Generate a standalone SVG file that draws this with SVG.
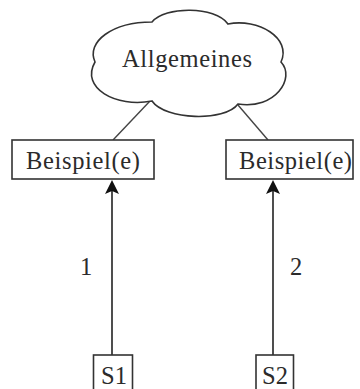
<svg xmlns="http://www.w3.org/2000/svg" width="360" height="389" viewBox="0 0 360 389">
  <style>
    .box { fill: #ffffff; stroke: #333333; stroke-width: 1.6; }
    .cloud { fill: #ffffff; stroke: #333333; stroke-width: 1.6; }
    .label { font-family: "Liberation Serif", "DejaVu Serif", serif; font-size: 24.5px; fill: #2b2b2b; }
    .edge { stroke: #444444; stroke-width: 1.4; fill: none; }
    .arrow { stroke: #222222; stroke-width: 1.6; fill: none; }
    .head { fill: #111111; }
  </style>

  <!-- connectors -->
  <g id="connectors">
    <line class="edge" x1="150" y1="101" x2="113" y2="140"/>
    <line class="edge" x1="238" y1="105" x2="268" y2="140"/>
    <line class="arrow" x1="112" y1="355" x2="112" y2="185"/>
    <path class="head" d="M112,180 L105,194 L112,191 L119,194 Z"/>
    <line class="arrow" x1="273" y1="355" x2="273" y2="185"/>
    <path class="head" d="M273,180 L266,194 L273,191 L280,194 Z"/>
    <text class="label" x="80" y="275">1</text>
    <text class="label" x="290" y="275">2</text>
  </g>

  <!-- general concept -->
  <g id="allgemeines">
    <path class="cloud" d="M95,62 C86,42 112,22 152,22 C165,6 215,6 228,24 C258,18 292,38 281,62 C296,78 275,110 238,104 C225,122 165,120 152,101 C116,108 80,88 95,62 Z"/>
    <text class="label" x="122" y="67" textLength="130" lengthAdjust="spacing">Allgemeines</text>
  </g>

  <!-- examples -->
  <g id="beispiel1">
    <rect class="box" x="12" y="140" width="142" height="39"/>
    <text class="label" x="26" y="169" textLength="114" lengthAdjust="spacing">Beispiel(e)</text>
  </g>
  <g id="beispiel2">
    <rect class="box" x="226" y="140" width="127" height="39"/>
    <text class="label" x="239" y="169" textLength="113" lengthAdjust="spacing">Beispiel(e)</text>
  </g>

  <!-- sources -->
  <g id="s1">
    <rect class="box" x="93.5" y="355" width="39" height="40"/>
    <text class="label" x="101" y="384">S1</text>
  </g>
  <g id="s2">
    <rect class="box" x="256" y="355" width="37.5" height="40"/>
    <text class="label" x="262" y="384">S2</text>
  </g>
</svg>
